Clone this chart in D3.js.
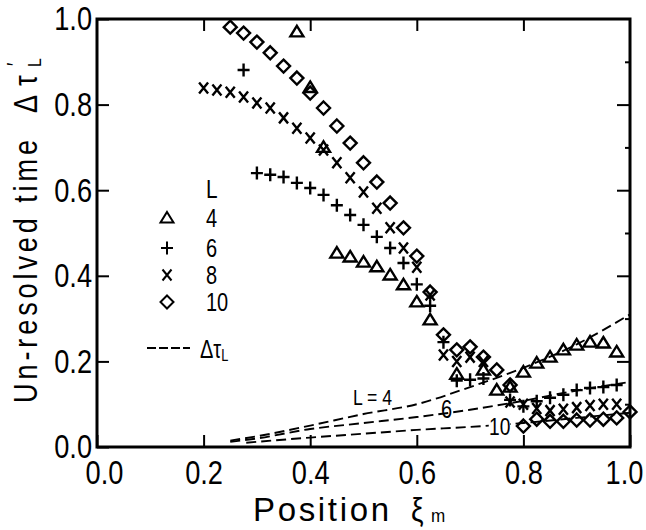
<!DOCTYPE html>
<html><head><meta charset="utf-8">
<script src="https://cdnjs.cloudflare.com/ajax/libs/d3/7.8.5/d3.min.js"></script>
<style>
html,body{margin:0;padding:0;background:#fff;}
svg{display:block;}
text{font-family:"Liberation Sans",Arial,sans-serif;fill:#000;}
</style></head>
<body><svg id="c" width="646" height="530"></svg>
<script>
// ---- data ----
const xTicks = [0.0, 0.2, 0.4, 0.6, 0.8, 1.0];
const yTicks = [0.0, 0.2, 0.4, 0.6, 0.8, 1.0];
const seriesNames = ["4", "6", "8", "10"];

const l4X = [0.375,0.4,0.425,0.45,0.475,0.5,0.525,0.55,0.575,0.6,0.625,0.675,0.725,0.75,0.775,0.8,0.825,0.85,0.875,0.9,0.925,0.95,0.975];
const l4Y = [0.97,0.84,0.70,0.453,0.444,0.432,0.421,0.402,0.379,0.339,0.297,0.17,0.18,0.133,0.14,0.175,0.196,0.21,0.227,0.238,0.245,0.243,0.222];

const l6X = [0.275,0.3,0.325,0.35,0.375,0.4,0.425,0.45,0.475,0.5,0.525,0.55,0.575,0.6,0.625,0.65,0.675,0.7,0.725,0.775,0.8,0.825,0.85,0.875,0.9,0.925,0.95,0.975];
const l6Y = [0.881,0.640,0.636,0.631,0.617,0.605,0.589,0.565,0.542,0.519,0.491,0.465,0.43,0.38,0.33,0.245,0.155,0.157,0.16,0.11,0.095,0.107,0.115,0.122,0.133,0.138,0.14,0.145];

const l8X = [0.2,0.225,0.25,0.275,0.3,0.325,0.35,0.375,0.4,0.425,0.45,0.475,0.5,0.525,0.55,0.575,0.6,0.625,0.65,0.675,0.7,0.725,0.775,0.8,0.825,0.85,0.875,0.9,0.925,0.95,0.975];
const l8Y = [0.839,0.834,0.829,0.818,0.804,0.792,0.769,0.745,0.722,0.694,0.664,0.629,0.596,0.558,0.512,0.465,0.42,0.355,0.215,0.20,0.21,0.20,0.105,0.10,0.09,0.085,0.088,0.092,0.097,0.10,0.10];

const l10X = [0.25,0.275,0.3,0.325,0.35,0.375,0.4,0.425,0.45,0.475,0.5,0.525,0.55,0.575,0.6,0.625,0.65,0.675,0.7,0.725,0.75,0.775,0.8,0.825,0.85,0.875,0.9,0.925,0.95,0.975,1.0];
const l10Y = [0.981,0.967,0.946,0.921,0.89,0.862,0.827,0.792,0.75,0.71,0.664,0.619,0.57,0.512,0.446,0.362,0.262,0.227,0.234,0.21,0.18,0.145,0.049,0.065,0.06,0.06,0.063,0.063,0.065,0.068,0.082];

// theoretical curves (dashed)
const c4X = [0.25,0.3,0.4,0.5,0.6,0.7,0.8,0.9,1.0];
const c4Y = [0.015,0.025,0.05,0.077,0.10,0.14,0.185,0.24,0.31];
const c6X = [0.25,0.3,0.4,0.5,0.6,0.7,0.8,0.9,1.0];
const c6Y = [0.012,0.02,0.042,0.056,0.07,0.087,0.108,0.132,0.152];
const c10X = [0.28,0.4,0.5,0.6,0.7,0.8,0.9,1.0];
const c10Y = [0.01,0.022,0.031,0.04,0.047,0.056,0.068,0.08];

// ---- drawing ----
const svg = d3.select("#c");
const x = d3.scaleLinear().domain([0,1]).range([97,630]);
const y = d3.scaleLinear().domain([0,1]).range([447,19]);
const fmt = d3.format(".1f");
const SX = 0.8; // condensed look

// axes
const gx = svg.append("g").attr("transform","translate(0,447)")
  .call(d3.axisBottom(x).tickValues(xTicks).tickSize(-12).tickPadding(13).tickFormat(fmt));
const gxt = svg.append("g").attr("transform","translate(0,19)")
  .call(d3.axisTop(x).tickValues(xTicks.slice(1,5)).tickSize(-12).tickFormat(""));
const gy = svg.append("g").attr("transform","translate(97,0)")
  .call(d3.axisLeft(y).tickValues(yTicks).tickSize(-12).tickPadding(5).tickFormat(fmt));
const gyr = svg.append("g").attr("transform","translate(630,0)")
  .call(d3.axisRight(y).tickValues(yTicks.slice(1,5)).tickSize(-13).tickFormat(""));
const gyrm = svg.append("g").attr("transform","translate(630,0)")
  .call(d3.axisRight(y).tickValues([0.1,0.3,0.5,0.7,0.9]).tickSize(-5).tickFormat(""));
[gx,gxt,gy,gyr,gyrm].forEach(g=>{
  g.select(".domain").remove();
  g.selectAll(".tick line").attr("stroke","#000").attr("stroke-width",2);
  g.selectAll(".tick text").style("font-size","34px").style("font-family",'"Liberation Sans",Arial,sans-serif');
});
gy.selectAll(".tick text").attr("x",-5/SX).attr("transform",`scale(${SX},1)`);
gx.selectAll(".tick text").attr("transform",d=>{
  const dx = d===0 ? 7 : (d===1 ? -6 : 0);
  return `translate(${dx},0) scale(${SX},1)`;
});
svg.append("rect").attr("x",x(0)).attr("y",y(1)).attr("width",x(1)-x(0)).attr("height",y(0)-y(1))
  .attr("fill","none").attr("stroke","#000").attr("stroke-width",3);

// dashed curves
const line = d3.line().x(d=>x(d[0])).y(d=>y(d[1])).curve(d3.curveMonotoneX);
[[c4X,c4Y],[c6X,c6Y],[c10X,c10Y]].forEach(([cx,cy])=>{
  svg.append("path").datum(cx.map((v,i)=>[v,cy[i]])).attr("d",line)
    .attr("fill","none").attr("stroke","#000").attr("stroke-width",1.9).attr("stroke-dasharray","10,5");
});

// markers
const shapes = {
  "4": "M0,-6L6.5,4.5L-6.5,4.5Z",
  "6": "M-6,0H6M0,-6.5V6.5",
  "8": "M-4.5,-5.5L4.5,5.5M4.5,-5.5L-4.5,5.5",
  "10": "M0,-6.5L6.5,0L0,6.5L-6.5,0Z"
};
const sets = [["4",l4X,l4Y],["6",l6X,l6Y],["8",l8X,l8Y],["10",l10X,l10Y]];
sets.forEach(([k,xs,ys])=>{
  svg.append("g").selectAll("path").data(xs.map((v,i)=>[v,ys[i]])).join("path")
    .attr("transform",d=>`translate(${x(d[0])},${y(d[1])})`)
    .attr("d",shapes[k]).attr("fill","none").attr("stroke","#000").attr("stroke-width",2.4);
});

// narrow text helper
function ntext(parent,t,px,py,size,sx){
  sx = sx||SX;
  return parent.append("text").attr("transform",`translate(${px},${py}) scale(${sx},1)`)
    .style("font-size",size+"px").text(t);
}
// white knock-out behind "10"
svg.append("rect").attr("x",x(0.735)).attr("y",y(0.07)).attr("width",x(0.775)-x(0.735)).attr("height",y(0.02)-y(0.07)).attr("fill","#fff");
ntext(svg,"L = 4", 353, 405, 22);
ntext(svg,"6", 441, 418, 25);
ntext(svg,"10", 489, 435, 24);

// legend
const lg = svg.append("g");
ntext(lg,"L",206,198,26);
const legY = [218, 248, 275, 302];
seriesNames.forEach((n,i)=>{
  lg.append("path").attr("transform",`translate(167,${legY[i]})`).attr("d",shapes[n])
    .attr("fill","none").attr("stroke","#000").attr("stroke-width",2);
  ntext(lg,n,206,legY[i]+9,25);
});
lg.append("line").attr("x1",147).attr("x2",190).attr("y1",348).attr("y2",348)
  .attr("stroke","#000").attr("stroke-width",1.8).attr("stroke-dasharray","9,3");
const lt = ntext(lg,"",200,358,25);
lt.append("tspan").text("Δτ");
lt.append("tspan").attr("dy",3).style("font-size","16px").text("L");

// axis titles
svg.append("text").attr("x",253).attr("y",521).style("font-size","33px")
  .attr("textLength",136).attr("lengthAdjust","spacing").text("Position");
ntext(svg,"ξ",411,521,33,0.85);
ntext(svg,"m",431,522,19,0.9);

const S2 = 0.82;
const yl = svg.append("g").attr("transform",`rotate(-90) scale(${S2},1)`);
yl.append("text").attr("x",-403/S2).attr("y",37).style("font-size","33px")
  .attr("textLength",263/S2).attr("lengthAdjust","spacing").text("Un-resolved time");
yl.append("text").attr("x",-113/S2).attr("y",37).style("font-size","33px").text("Δ");
yl.append("text").attr("x",-86/S2).attr("y",37).style("font-size","33px").text("τ");
yl.append("text").attr("x",-67/S2).attr("y",41).style("font-size","19px").text("L");
yl.append("text").attr("x",-66/S2).attr("y",22).style("font-size","22px").text("′");
</script></body></html>
